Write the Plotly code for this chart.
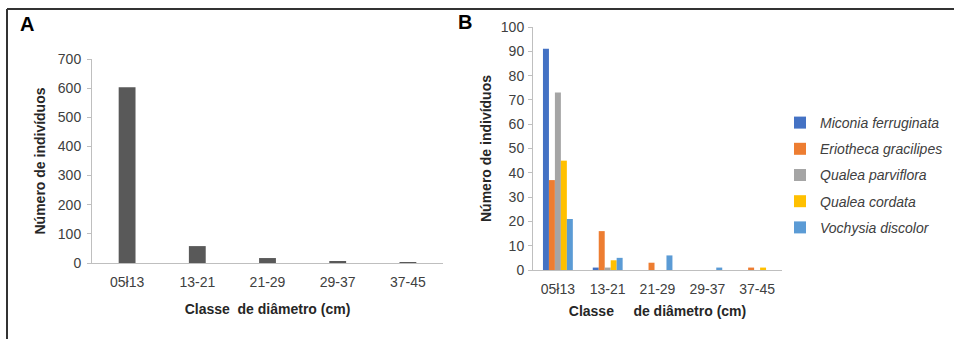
import plotly.graph_objects as go

W, H = 954, 339

classes = ["05ł13", "13-21", "21-29", "29-37", "37-45"]
total_individuals = [603, 58, 17, 4, 3]

species = ["Miconia ferruginata", "Eriotheca gracilipes", "Qualea parviflora",
           "Qualea cordata", "Vochysia discolor"]
miconia = [91, 1, 0, 0, 0]
eriotheca = [37, 16, 3, 0, 1]
qualea_parviflora = [73, 1, 0, 0, 0]
qualea_cordata = [45, 4, 0, 0, 1]
vochysia = [21, 5, 6, 1, 0]
species_values = [miconia, eriotheca, qualea_parviflora, qualea_cordata, vochysia]
species_colors = ["#4472C4", "#ED7D31", "#A5A5A5", "#FFC000", "#5B9BD5"]

ticks_a = list(range(0, 701, 100))
ticks_b = list(range(0, 101, 10))

def px(x):
    return x / W

def py(y):
    return 1 - y / H

fig = go.Figure()

fig.add_trace(go.Bar(x=classes, y=total_individuals, marker_color="#595959",
                     marker_line_width=0, showlegend=False, width=0.24,
                     xaxis="x", yaxis="y"))

for name, vals, col in zip(species, species_values, species_colors):
    fig.add_trace(go.Bar(x=classes, y=vals, name=name, marker_color=col,
                         marker_line_width=0, legendgroup=name,
                         xaxis="x2", yaxis="y2"))

font = "Liberation Sans, Arial, sans-serif"
tickfont = dict(family=font, size=14, color="#404040")
titlefont = dict(family=font, size=14, color="#262626")
axis_common = dict(showgrid=False, zeroline=False, showline=True, automargin=False,
                   linecolor="#BFBFBF", linewidth=1, tickfont=tickfont)

fig.update_layout(
    width=W, height=H,
    autosize=False,
    margin=dict(l=0, r=0, t=0, b=0, pad=0, autoexpand=False),
    paper_bgcolor="white", plot_bgcolor="white",
    barmode="group",
    bargap=0.4,
    font=dict(family=font),
    xaxis=dict(domain=[px(92), px(443)], anchor="y", **axis_common,
               ticks="", ticklabelstandoff=6,
               title=dict(text="<b>Classe\u00a0\u00a0de diâmetro (cm)</b>",
                          font=titlefont, standoff=15)),
    yaxis=dict(domain=[py(263), py(59)], anchor="x", range=[0, 700],
               tickvals=ticks_a, ticks="outside", ticklen=4, tickcolor="#BFBFBF",
               ticklabelstandoff=3, **axis_common,
               title=dict(text="<b>Número de indivíduos</b>", font=titlefont, standoff=8)),
    xaxis2=dict(domain=[px(533), px(782)], anchor="y2", **axis_common,
                ticks="", ticklabelstandoff=6,
                title=dict(text="<b>Classe\u00a0\u00a0\u00a0\u00a0\u00a0de diâmetro (cm)</b>",
                           font=titlefont, standoff=10)),
    yaxis2=dict(domain=[py(270), py(27)], anchor="x2", range=[0, 100],
                tickvals=ticks_b, ticks="outside", ticklen=4, tickcolor="#BFBFBF",
                ticklabelstandoff=1, **axis_common,
                title=dict(text="<b>Número de indivíduos</b>", font=titlefont, standoff=5)),
    legend=dict(x=px(780), y=py(107), xanchor="left", yanchor="top",
                font=dict(family=font, size=14, color="#404040", style="italic"),
                tracegroupgap=5, bgcolor="rgba(0,0,0,0)"),
    shapes=[
        dict(type="line", xref="paper", yref="paper", x0=px(7), x1=1, y0=py(9), y1=py(9),
             line=dict(color="#333333", width=2)),
        dict(type="line", xref="paper", yref="paper", x0=px(7), x1=px(7), y0=py(9), y1=0,
             line=dict(color="#333333", width=2)),
    ],
    annotations=[
        dict(text="<b>A</b>", x=px(18), y=py(24), xref="paper", yref="paper",
             xanchor="left", yanchor="middle", showarrow=False,
             font=dict(family=font, size=20, color="#000000")),
        dict(text="<b>B</b>", x=px(456), y=py(22), xref="paper", yref="paper",
             xanchor="left", yanchor="middle", showarrow=False,
             font=dict(family=font, size=20, color="#000000")),
    ],
)

fig.write_html("out.html", config={"displayModeBar": False},
               post_script="document.body.style.margin='0';")
